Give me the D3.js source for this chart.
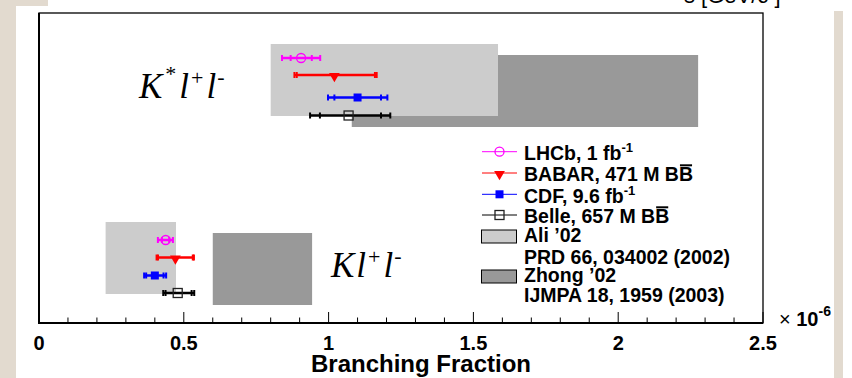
<!DOCTYPE html>
<html>
<head>
<meta charset="utf-8">
<script src="https://cdn.jsdelivr.net/npm/d3@7"></script>
<style>
  body { margin: 0; background: #fff; }
  svg { display: block; }
  .bold { font-family: "Liberation Sans", Arial, sans-serif; font-weight: bold; }
  .decay { font-family: "Liberation Serif", "Times New Roman", serif; font-style: italic; }
</style>
</head>
<body>
<div id="chart"></div>
<script>
// experiments, top to bottom inside each decay group
const experiments = ["LHCb", "BABAR", "CDF", "Belle"];
const expColors   = ["#ff00ff", "#ff0000", "#0000ff", "#000000"];
const expMarkers  = ["openCircle", "downTriangle", "square", "openSquare"];

// K* l+ l-  (units of 1e-6)
const kstarValue  = [0.905, 1.02, 1.10, 1.069];
const kstarStatLo = [0.036, 0.13, 0.08, 0.099];
const kstarStatHi = [0.037, 0.14, 0.081, 0.112];
const kstarTotLo  = [0.066, 0.138, 0.102, 0.133];
const kstarTotHi  = [0.066, 0.146, 0.103, 0.144];
const kstarRow    = [26.5, 24.8, 22.55, 20.75];

// K l+ l-
const kValue  = [0.4375, 0.471, 0.40, 0.479];
const kStatLo = [0.013, 0.06, 0.03, 0.042];
const kStatHi = [0.012, 0.06, 0.03, 0.048];
const kTotLo  = [0.027, 0.065, 0.037, 0.05];
const kTotHi  = [0.025, 0.064, 0.039, 0.057];
const kRow    = [8.3, 6.55, 4.75, 3.0];

// theory predictions: [low, high] BF and [bottom, top] row range, K then K*
const aliRange   = [[0.23, 0.473], [0.80, 1.585]];
const aliRows    = [[2.9, 10.1], [20.7, 27.9]];
const zhongRange = [[0.60, 0.943], [1.08, 2.276]];
const zhongRows  = [[1.8, 9.0], [19.6, 26.8]];

const xTicks = [0, 0.5, 1, 1.5, 2, 2.5];
const xMinor = d3.range(0, 26).map(d => d / 10);

// legend rows: text pieces, [text, "sup"|"bar"|""]
const legendLabels = [
  [["LHCb, 1 fb", ""], ["-1", "sup"]],
  [["BABAR, 471 M B", ""], ["B", "bar"]],
  [["CDF, 9.6 fb", ""], ["-1", "sup"]],
  [["Belle, 657 M B", ""], ["B", "bar"]]
];

const width = 852, height = 378;
const margin = { top: 13, right: 89, bottom: 55, left: 39 };

const svg = d3.select("#chart").append("svg")
  .attr("width", width)
  .attr("height", height);

// beige page edges
const beige = "#e2dacf";
svg.append("rect").attr("x", 0).attr("y", 0).attr("width", 16).attr("height", height).attr("fill", beige);
svg.append("rect").attr("x", 0).attr("y", 0).attr("width", 48).attr("height", 6).attr("fill", beige);
svg.append("rect").attr("x", 834).attr("y", 11).attr("width", 9).attr("height", height - 11).attr("fill", beige);

// cut-off title of the slide above
svg.append("text")
  .attr("x", 684).attr("y", 3)
  .style("font-family", "Liberation Sans, Arial, sans-serif")
  .style("font-size", "22px")
  .text("s [GeV/c ]");

const x = d3.scaleLinear().domain([0, 2.5]).range([margin.left, width - margin.right]);
const y = d3.scaleLinear().domain([0, 31]).range([height - margin.bottom, margin.top]);

// theory boxes, dark below light
const boxes = svg.append("g");
boxes.selectAll(".zhong")
  .data(zhongRange)
  .enter().append("rect")
    .attr("x", d => x(d[0]))
    .attr("width", d => x(d[1]) - x(d[0]))
    .attr("y", (d, i) => y(zhongRows[i][1]))
    .attr("height", (d, i) => y(zhongRows[i][0]) - y(zhongRows[i][1]))
    .attr("fill", "#999999");
boxes.selectAll(".ali")
  .data(aliRange)
  .enter().append("rect")
    .attr("x", d => x(d[0]))
    .attr("width", d => x(d[1]) - x(d[0]))
    .attr("y", (d, i) => y(aliRows[i][1]))
    .attr("height", (d, i) => y(aliRows[i][0]) - y(aliRows[i][1]))
    .attr("fill", "#cccccc");

function marker(g, kind, color, cx, cy) {
  if (kind === "openCircle") {
    g.append("circle").attr("cx", cx).attr("cy", cy).attr("r", 4.5)
      .attr("fill", "none").attr("stroke", color).attr("stroke-width", 1.3);
  } else if (kind === "downTriangle") {
    g.append("path").attr("d", d3.symbol(d3.symbolTriangle, 50)())
      .attr("transform", `translate(${cx},${cy + 1}) rotate(180)`).attr("fill", color);
  } else if (kind === "square") {
    g.append("rect").attr("x", cx - 4).attr("y", cy - 4).attr("width", 8).attr("height", 8).attr("fill", color);
  } else {
    g.append("rect").attr("x", cx - 4.5).attr("y", cy - 4.5).attr("width", 9).attr("height", 9)
      .attr("fill", "none").attr("stroke", "#222").attr("stroke-width", 1.3);
  }
}

function drawGroup(vals, sLo, sHi, tLo, tHi, rows) {
  const g = svg.append("g");
  vals.forEach((v, i) => {
    const c = expColors[i], cy = y(rows[i]);
    g.append("line")
      .attr("x1", x(v - tLo[i])).attr("x2", x(v + tHi[i]))
      .attr("y1", cy).attr("y2", cy)
      .attr("stroke", c).attr("stroke-width", 2.5);
    [v - tLo[i], v - sLo[i], v + sHi[i], v + tHi[i]].forEach(e => {
      g.append("line")
        .attr("x1", x(e)).attr("x2", x(e))
        .attr("y1", cy - 3).attr("y2", cy + 3)
        .attr("stroke", c).attr("stroke-width", 2);
    });
    marker(g, expMarkers[i], c, x(v), cy);
  });
}

drawGroup(kstarValue, kstarStatLo, kstarStatHi, kstarTotLo, kstarTotHi, kstarRow);
drawGroup(kValue, kStatLo, kStatHi, kTotLo, kTotHi, kRow);

// decay labels
function decayLabel(px, py, star) {
  const t = svg.append("text").attr("class", "decay").attr("x", px).attr("y", py).style("font-size", "35px");
  t.append("tspan").text("K");
  if (star) t.append("tspan").attr("dy", -17).attr("dx", 3).style("font-size", "22px").style("font-style", "normal").text("*");
  t.append("tspan").attr("dy", star ? 17 : 0).attr("dx", star ? 3 : 2).text("l");
  t.append("tspan").attr("dy", -13).attr("dx", 2).style("font-size", "22px").style("font-style", "normal").text("+");
  t.append("tspan").attr("dy", 13).attr("dx", 3).text("l");
  t.append("tspan").attr("dy", -14).attr("dx", 1).style("font-size", "22px").style("font-style", "normal").text("-");
}
decayLabel(139, 97.7, true);
decayLabel(331, 276.7, false);

// frame
svg.append("rect")
  .attr("x", x(0)).attr("y", margin.top)
  .attr("width", x(2.5) - x(0)).attr("height", y(0) - margin.top)
  .attr("fill", "none").attr("stroke", "#000").attr("stroke-width", 1.3);
svg.append("line").attr("x1", x(0)).attr("x2", x(0)).attr("y1", margin.top).attr("y2", y(0))
  .attr("stroke", "#000").attr("stroke-width", 2);
svg.append("line").attr("x1", x(0) - 1).attr("x2", x(2.5)).attr("y1", y(0)).attr("y2", y(0))
  .attr("stroke", "#000").attr("stroke-width", 2);

// ticks, pointing up into the frame
svg.append("g").selectAll("line")
  .data(xMinor)
  .enter().append("line")
    .attr("x1", d => x(d)).attr("x2", d => x(d))
    .attr("y1", y(0))
    .attr("y2", d => y(0) - (Math.round(d * 10) % 5 === 0 ? 11 : 5.5))
    .attr("stroke", "#000").attr("stroke-width", 1);

svg.append("g").selectAll("text")
  .data(xTicks)
  .enter().append("text")
    .attr("class", "bold")
    .attr("x", d => x(d)).attr("y", 350)
    .attr("text-anchor", "middle")
    .style("font-size", "20px")
    .text(d => d);

svg.append("text").attr("class", "bold")
  .attr("x", 421).attr("y", 372)
  .attr("text-anchor", "middle")
  .style("font-size", "24px")
  .text("Branching Fraction");

const mult = svg.append("text").attr("class", "bold").attr("x", 779).attr("y", 326).style("font-size", "20px");
mult.append("tspan").style("font-weight", "normal").text("\u00d7 ");
mult.append("tspan").text("10");
mult.append("tspan").attr("dy", -10).style("font-size", "14px").text("-6");

// legend
const legend = svg.append("g");
const legLineY = [151.7, 173, 194.3, 215];
legendLabels.forEach((parts, i) => {
  const ly = legLineY[i];
  legend.append("line").attr("x1", 482).attr("x2", 517).attr("y1", ly).attr("y2", ly)
    .attr("stroke", expColors[i]).attr("stroke-width", 1);
  marker(legend, expMarkers[i], expColors[i], 499.5, ly);
  const t = legend.append("text").attr("class", "bold").attr("x", 524).attr("y", ly + 8.3).style("font-size", "19.5px");
  let nChars = 0;
  parts.forEach(([s, kind]) => {
    const sp = t.append("tspan").text(s);
    if (kind === "sup") sp.attr("dy", -8).style("font-size", "13px");
    if (kind === "bar") {
      const box = t.node().getExtentOfChar(nChars);
      legend.append("line")
        .attr("x1", box.x + 1).attr("x2", box.x + box.width - 1)
        .attr("y1", ly + 8.3 - 16).attr("y2", ly + 8.3 - 16)
        .attr("stroke", "#000").attr("stroke-width", 2);
    }
    nChars += s.length;
  });
});

const boxLegend = [
  { fill: "#cccccc", y0: 230, lines: ["Ali \u201902", "PRD 66, 034002 (2002)"], base: [241.7, 264] },
  { fill: "#999999", y0: 270, lines: ["Zhong \u201902", "IJMPA 18, 1959 (2003)"], base: [282, 301.7] }
];
boxLegend.forEach(b => {
  legend.append("rect").attr("x", 481.5).attr("y", b.y0).attr("width", 35).attr("height", 13)
    .attr("fill", b.fill).attr("stroke", "#000").attr("stroke-width", 1);
  b.lines.forEach((s, j) => {
    legend.append("text").attr("class", "bold").attr("x", 524).attr("y", b.base[j])
      .style("font-size", "19.5px").text(s);
  });
});
</script>
</body>
</html>
